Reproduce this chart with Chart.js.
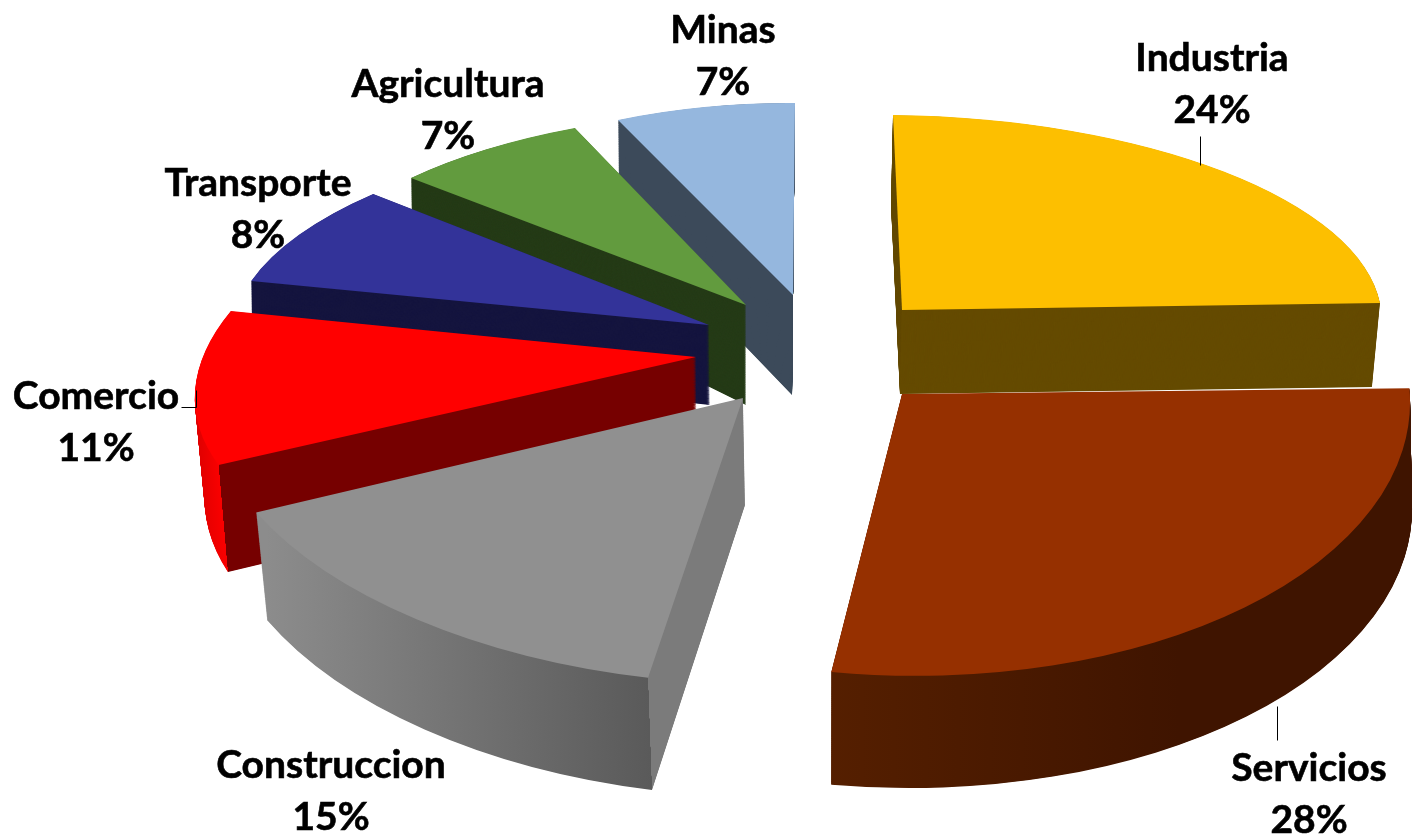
<!DOCTYPE html>
<html>
<head>
<meta charset="utf-8">
<style>html,body{margin:0;padding:0;background:#fff}canvas{display:block}</style>
<script src="https://cdn.jsdelivr.net/npm/chart.js@4/dist/chart.umd.min.js"></script>
</head>
<body>
<canvas id="c" width="1413" height="835"></canvas>
<script>
const categories = ['Industria','Servicios','Construccion','Comercio','Transporte','Agricultura','Minas'];
const shares = [24,28,15,11,8,7,7];
const topColors = ['#fdbf00','#963000','#909090','#ff0000','#333399','#629b3e','#95b7de'];
const sideColors = ['#654b00','#3f1400','#7b7b7b','#760000','#15153f','#253b17','#3c4a5a'];

// Per-slice oblique projection of the unit pie onto the page: [originX, originY, xAxisX, xAxisY, yAxisX, yAxisY]
const topViews = [
  [902,310, 479.5,5.3, 9,195],
  [902,394, 508,12, -7.1,281.6],
  [743,398, 540.6,26.2, -27.4,285.4],
  [696,357, 491.9,3.1, -96.2,229.7],
  [709,325, 475.1,7.3, -47.5,196.8],
  [746,305, 455.8,4.9, -25.4,193.3],
  [793,295, 415.2,3.1, -2,192]
];
const baseViews = [
  [900,394, 473.5,4.9, 9,189],
  [902,505, 510,8, -7,283],
  [745,505, 530.8,28.7, -26.7,290.9],
  [697,460, 483.4,12.4, -94.4,255.1],
  [710,405, 474.7,11.8, -45.5,205.5],
  [746,405, 453.7,28.9, -24.4,224],
  [792,395, 410.5,-55.4, -2,225]
];
// Rim-wall shading (page x range and colours) for slices whose outer wall faces the viewer
const rimShades = {
  1:{from:830,to:1180,c0:'#551f00',c1:'#3f1400',split:false},
  2:{from:267,to:650,c0:'#8c8c8c',c1:'#5a5a5a',split:true},
  3:{from:198,to:228,c0:'#e00000',c1:'#fa0000',split:true}
};
const paintOrder = [6,5,4,3,2,0,1];
const labelSpots = [[1212,58],[1309,768],[331,765],[96,396],[258,183],[448,84],[723,30]];
const lineGap = 52;
const leaders = [[[1200,136],[1200,165]],[[1277,706],[1277,740]],[[181,407],[196,407],[196,390]]];

const steps = 170;
const lerp = (a,b,t)=>a+(b-a)*t;

function matrixFor(view, el){
  const R = el.outerRadius, a=view[2]/R, b=view[3]/R, c=view[4]/R, d=view[5]/R;
  return {a,b,c,d,e:view[0]-a*el.x-c*el.y,f:view[1]-b*el.x-d*el.y};
}
function pageGradient(ctx,m,x0,x1){
  const n=m.a*m.a+m.c*m.c;
  const s0=(x0-m.e)/n, s1=(x1-m.e)/n;
  return ctx.createLinearGradient(m.a*s0,m.c*s0,m.a*s1,m.c*s1);
}
function wallFill(ctx,i,m,view,el){
  const shade=rimShades[i];
  if(!shade) return sideColors[i];
  const g=pageGradient(ctx,m,shade.from,shade.to+400);
  const span=shade.to+400-shade.from;
  const clamp=v=>Math.max(0,Math.min(1,v));
  g.addColorStop(0,shade.c0);
  if(shade.split){
    const th=el.startAngle;
    const cornerX=view[0]+view[2]*Math.cos(th)+view[4]*Math.sin(th);
    const p=clamp((cornerX-shade.from)/span);
    g.addColorStop(p,shade.c1);
    g.addColorStop(p,sideColors[i]);
    g.addColorStop(1,sideColors[i]);
  } else {
    g.addColorStop(clamp((shade.to-shade.from)/span),shade.c1);
    g.addColorStop(1,shade.c1);
  }
  return g;
}
function paintArc(ctx,el,fill,m){
  const keep=el.options;
  el.options={backgroundColor:fill,borderColor:fill,borderWidth:0,borderAlign:'center',borderRadius:0,
    offset:0,spacing:0,circular:true,borderJoinStyle:'round'};
  ctx.setTransform(m.a,m.b,m.c,m.d,m.e,m.f);
  el.draw(ctx);
  el.options=keep;
}
const tiltedPie={
  id:'tiltedPie',
  beforeDatasetsDraw(chart){
    const ctx=chart.ctx, arcs=chart.getDatasetMeta(0).data;
    ctx.save();
    paintOrder.forEach(i=>{
      const el=arcs[i], top=topViews[i], base=baseViews[i];
      for(let k=steps;k>0;k--){
        const t=k/steps;
        const v=top.map((n,j)=>lerp(n,base[j],t));
        const m=matrixFor(v,el);
        paintArc(ctx,el,wallFill(ctx,i,m,v,el),m);
      }
      paintArc(ctx,el,topColors[i],matrixFor(top,el));
    });
    ctx.restore();
    return false;
  },
  afterDraw(chart){
    const ctx=chart.ctx;
    ctx.save();
    ctx.setTransform(1,0,0,1,0,0);
    ctx.strokeStyle='#000';ctx.lineWidth=1;
    leaders.forEach(path=>{
      ctx.beginPath();
      path.forEach((p,j)=>j?ctx.lineTo(p[0]+.5,p[1]+.5):ctx.moveTo(p[0]+.5,p[1]+.5));
      ctx.stroke();
    });
    ctx.fillStyle='#000';
    ctx.lineWidth=.6;
    ctx.font='bold 39px Lato';
    ctx.textAlign='center';ctx.textBaseline='middle';
    categories.forEach((name,i)=>{
      const [x,y]=labelSpots[i];
      ctx.fillText(name,x,y);
      ctx.strokeText(name,x,y);
      const pct=shares[i]+'%';
      ctx.fillText(pct,x,y+lineGap);
      ctx.strokeText(pct,x,y+lineGap);
    });
    ctx.restore();
  }
};
new Chart(document.getElementById('c'),{
  type:'pie',
  data:{labels:categories,datasets:[{data:shares,backgroundColor:topColors,borderWidth:0}]},
  options:{responsive:false,devicePixelRatio:1,animation:false,
    plugins:{legend:{display:false},tooltip:{enabled:false}},
    events:[]},
  plugins:[tiltedPie]
});
</script>
</body>
</html>
